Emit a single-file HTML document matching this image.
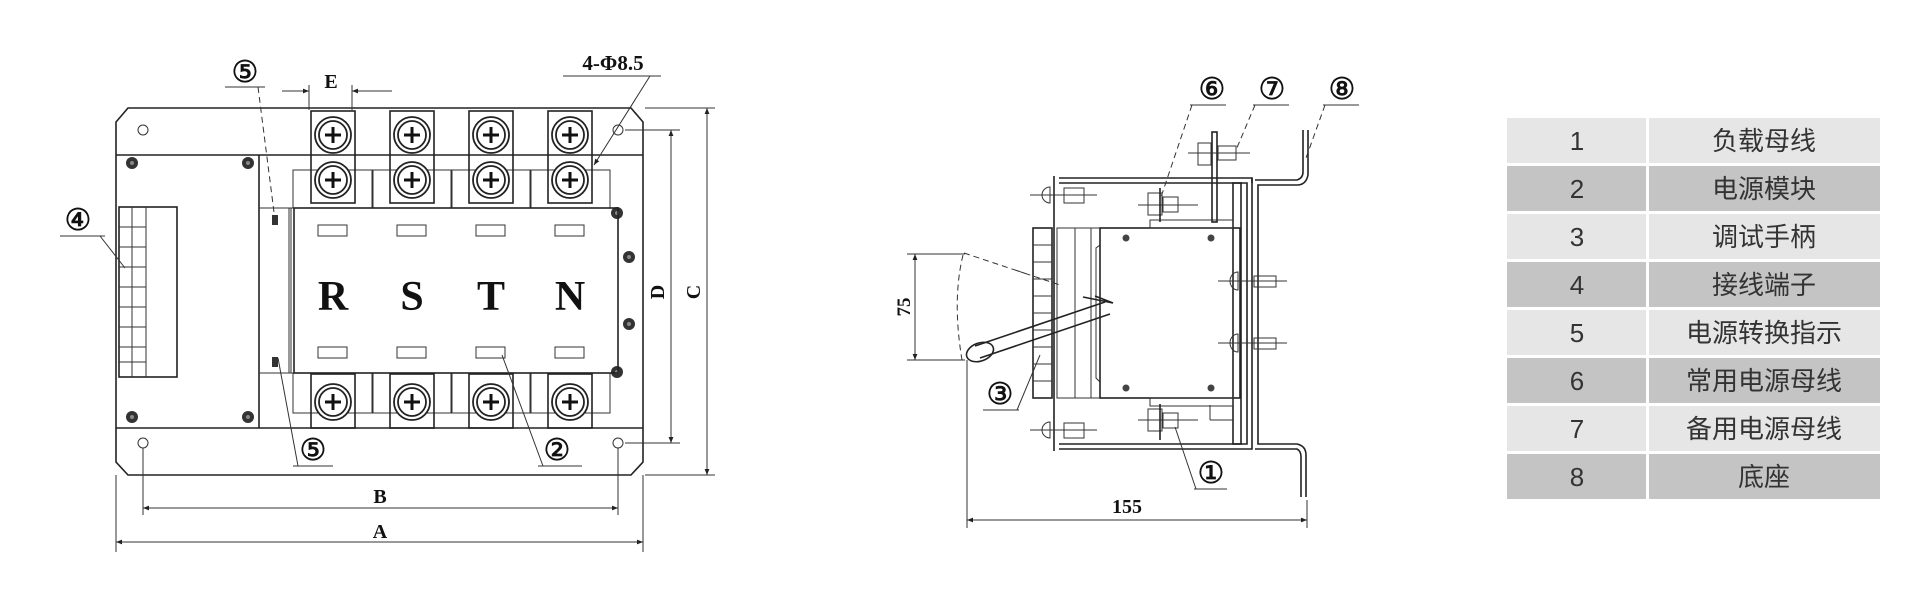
<!DOCTYPE html>
<html><head><meta charset="utf-8"><style>
html,body{margin:0;padding:0;background:#fff;}
svg{display:block}
.l{stroke:#222;stroke-width:1.6;fill:none}
.t{stroke:#333;stroke-width:1;fill:none}
.d{stroke:#333;stroke-width:1;fill:none;stroke-dasharray:6 4}
.c{font-family:"DejaVu Sans","Noto Sans CJK SC",sans-serif;font-size:30px;fill:#111;stroke:#111;stroke-width:0.6}
.s{font-family:"Liberation Serif",serif;font-weight:bold;fill:#111}
.tb{font-family:"Liberation Sans","Noto Sans CJK SC",sans-serif;font-size:26px;fill:#333;text-anchor:middle}
</style></head><body>
<svg width="1909" height="595" viewBox="0 0 1909 595" xmlns="http://www.w3.org/2000/svg">
<defs>
<marker id="a" viewBox="0 0 10 10" refX="10" refY="5" markerWidth="9" markerHeight="6" orient="auto-start-reverse"><path d="M0,1 L10,5 L0,9 z" fill="#222"/></marker>
<g id="scr"><circle r="18" fill="#fff" stroke="#222" stroke-width="1.8"/><circle r="14" fill="none" stroke="#222" stroke-width="1.8"/><path d="M-8,0H8M0,-8V8" stroke="#111" stroke-width="3"/></g>
<g id="bolt"><circle r="6" fill="#333"/><circle r="2" fill="#888"/></g>
</defs>

<!-- LEFT VIEW -->
<path class="l" d="M128,108 H631 L643,122 V462 L631,475 H128 L116,462 V122 Z"/>
<line class="l" x1="116" y1="155" x2="643" y2="155"/>
<line class="l" x1="116" y1="428" x2="643" y2="428"/>
<circle class="t" cx="143" cy="130" r="5"/><circle class="t" cx="618" cy="130" r="5"/>
<circle class="t" cx="143" cy="443" r="5"/><circle class="t" cx="618" cy="443" r="5"/>
<use href="#bolt" x="132" y="163"/><use href="#bolt" x="248" y="163"/>
<use href="#bolt" x="132" y="417"/><use href="#bolt" x="248" y="417"/>
<use href="#bolt" x="629" y="257"/><use href="#bolt" x="629" y="324"/>
<use href="#bolt" x="617" y="213"/><use href="#bolt" x="617" y="372"/>
<rect class="l" x="119" y="207" width="58" height="170"/>
<line class="t" x1="132" y1="207" x2="132" y2="377"/><line class="t" x1="146" y1="207" x2="146" y2="377"/>
<g class="t">
<line x1="119" y1="227" x2="146" y2="227"/><line x1="119" y1="247" x2="146" y2="247"/><line x1="119" y1="267" x2="146" y2="267"/><line x1="119" y1="287" x2="146" y2="287"/><line x1="119" y1="307" x2="146" y2="307"/><line x1="119" y1="327" x2="146" y2="327"/><line x1="119" y1="347" x2="146" y2="347"/><line x1="119" y1="362" x2="146" y2="362"/>
</g>
<line class="l" x1="259" y1="155" x2="259" y2="428"/>
<line class="t" x1="259" y1="208" x2="294" y2="208"/><line class="t" x1="259" y1="373" x2="294" y2="373"/>
<line class="t" x1="291" y1="208" x2="291" y2="373"/><line class="t" x1="289" y1="208" x2="289" y2="373"/>
<rect x="272" y="215" width="6" height="10" fill="#333"/><rect x="272" y="357" width="6" height="10" fill="#333"/>
<g>
<rect class="t" x="293" y="170" width="80" height="38"/><rect class="t" x="372" y="170" width="80" height="38"/><rect class="t" x="451" y="170" width="80" height="38"/><rect class="t" x="530" y="170" width="80" height="38"/>
<rect class="t" x="293" y="373" width="80" height="40"/><rect class="t" x="372" y="373" width="80" height="40"/><rect class="t" x="451" y="373" width="80" height="40"/><rect class="t" x="530" y="373" width="80" height="40"/>
</g>
<rect class="l" x="294" y="208" width="324" height="165" fill="#fff"/>
<g fill="#fff">
<rect class="l" x="311" y="111" width="44" height="92" fill="#fff"/><rect class="l" x="390" y="111" width="44" height="92" fill="#fff"/><rect class="l" x="469" y="111" width="44" height="92" fill="#fff"/><rect class="l" x="548" y="111" width="44" height="92" fill="#fff"/>
<rect class="l" x="311" y="374" width="44" height="54" fill="#fff"/><rect class="l" x="390" y="374" width="44" height="54" fill="#fff"/><rect class="l" x="469" y="374" width="44" height="54" fill="#fff"/><rect class="l" x="548" y="374" width="44" height="54" fill="#fff"/>
</g>
<use href="#scr" x="333" y="135"/><use href="#scr" x="412" y="135"/><use href="#scr" x="491" y="135"/><use href="#scr" x="570" y="135"/>
<use href="#scr" x="333" y="180"/><use href="#scr" x="412" y="180"/><use href="#scr" x="491" y="180"/><use href="#scr" x="570" y="180"/>
<use href="#scr" x="333" y="402"/><use href="#scr" x="412" y="402"/><use href="#scr" x="491" y="402"/><use href="#scr" x="570" y="402"/>
<g class="t"><rect x="318" y="225" width="29" height="11"/><rect x="397" y="225" width="29" height="11"/><rect x="476" y="225" width="29" height="11"/><rect x="555" y="225" width="29" height="11"/>
<rect x="318" y="347" width="29" height="11"/><rect x="397" y="347" width="29" height="11"/><rect x="476" y="347" width="29" height="11"/><rect x="555" y="347" width="29" height="11"/></g>
<g class="s" font-size="42" text-anchor="middle"><text x="333" y="310" textLength="30">R</text><text x="412" y="310">S</text><text x="491" y="310">T</text><text x="570" y="310">N</text></g>
<line class="t" x1="309" y1="85" x2="309" y2="110"/><line class="t" x1="352" y1="85" x2="352" y2="110"/>
<line class="t" x1="282" y1="91" x2="309" y2="91" marker-end="url(#a)"/><line class="t" x1="392" y1="91" x2="352" y2="91" marker-end="url(#a)"/>
<text x="331" y="88" class="s" font-size="20" font-weight="normal" text-anchor="middle" fill="#555">E</text>
<text x="613" y="70" class="s" font-size="21" text-anchor="middle">4-Φ8.5</text>
<line class="t" x1="563" y1="76" x2="661" y2="76"/><line class="t" x1="650" y1="76" x2="594" y2="165" marker-end="url(#a)"/>
<line class="t" x1="625" y1="130" x2="680" y2="130"/><line class="t" x1="625" y1="443" x2="680" y2="443"/>
<line class="t" x1="645" y1="108" x2="715" y2="108"/><line class="t" x1="645" y1="475" x2="715" y2="475"/>
<line class="t" x1="671" y1="130" x2="671" y2="443" marker-start="url(#a)" marker-end="url(#a)"/>
<line class="t" x1="707" y1="108" x2="707" y2="475" marker-start="url(#a)" marker-end="url(#a)"/>
<text class="s" font-size="20" transform="translate(664,292) rotate(-90)" text-anchor="middle">D</text>
<text class="s" font-size="20" transform="translate(700,292) rotate(-90)" text-anchor="middle">C</text>
<line class="t" x1="143" y1="448" x2="143" y2="515"/><line class="t" x1="618" y1="448" x2="618" y2="515"/>
<line class="t" x1="116" y1="475" x2="116" y2="552"/><line class="t" x1="643" y1="475" x2="643" y2="552"/>
<line class="t" x1="143" y1="508" x2="618" y2="508" marker-start="url(#a)" marker-end="url(#a)"/>
<line class="t" x1="116" y1="542" x2="643" y2="542" marker-start="url(#a)" marker-end="url(#a)"/>
<text x="380" y="503" class="s" font-size="20" text-anchor="middle">B</text>
<text x="380" y="538" class="s" font-size="20" text-anchor="middle">A</text>
<text class="c" x="245" y="82" text-anchor="middle">⑤</text><line class="t" x1="225" y1="87" x2="265" y2="87"/><line class="d" x1="258" y1="87" x2="275" y2="220"/>
<text class="c" x="78" y="230" text-anchor="middle">④</text><line class="t" x1="60" y1="236" x2="105" y2="236"/><line class="t" x1="100" y1="236" x2="125" y2="268"/>
<text class="c" x="313" y="460" text-anchor="middle">⑤</text><line class="t" x1="293" y1="466" x2="333" y2="466"/><line class="t" x1="298" y1="466" x2="278" y2="358"/>
<text class="c" x="557" y="460" text-anchor="middle">②</text><line class="t" x1="538" y1="466" x2="582" y2="466"/><line class="t" x1="543" y1="466" x2="502" y2="355"/>

<!-- RIGHT VIEW -->
<path class="l" d="M1054,176 V451"/>
<path class="l" d="M1059,178 H1252 V449 H1059"/>
<path class="l" d="M1059,183 H1247 V444 H1059"/>
<path class="l" d="M1252,178 V183 M1255,180 H1297 Q1303,178 1303,172 V130 M1308,130 V175 Q1306,185 1297,185 H1258 V444 H1297 Q1306,446 1306,455 V497"/>
<path class="l" d="M1255,449 H1297 Q1301,451 1301,457 V497"/>
<rect class="l" x="1233" y="183" width="8" height="261"/>
<g class="t"><path d="M1030,195 H1097 M1030,430 H1097"/>
<rect x="1064" y="188" width="20" height="15"/><rect x="1064" y="423" width="20" height="15"/>
<path d="M1050,187 A8,8 0 0 0 1050,203 Z" /><path d="M1050,422 A8,8 0 0 0 1050,438 Z"/></g>
<rect class="l" x="1033" y="228" width="19" height="170"/>
<g class="t"><path d="M1033,245H1052M1033,262H1052M1033,279H1052M1033,296H1052M1033,313H1052M1033,330H1052M1033,347H1052M1033,364H1052M1033,381H1052"/>
<rect x="1057" y="228" width="18" height="170"/><rect x="1075" y="228" width="16" height="170"/>
<path d="M1091,228 H1100 V245 L1096,248 V378 L1100,382 V398 H1091"/></g>
<rect class="l" x="1100" y="228" width="140" height="170"/>
<g fill="#444"><circle cx="1126" cy="238" r="3.5"/><circle cx="1211" cy="238" r="3.5"/><circle cx="1126" cy="388" r="3.5"/><circle cx="1211" cy="388" r="3.5"/></g>
<rect class="t" x="1150" y="220" width="83" height="8"/><rect class="t" x="1150" y="398" width="83" height="8"/>
<g class="t"><path d="M1138,205 H1198"/><rect x="1148" y="193" width="14" height="22"/><rect x="1163" y="197" width="15" height="15"/>
<path d="M1138,420 H1198"/><rect x="1148" y="409" width="14" height="22"/><rect x="1163" y="413" width="15" height="15"/>
<path d="M1210,420 V405 M1210,420 H1233"/></g>
<line class="l" x1="1160" y1="188" x2="1160" y2="222"/><line class="l" x1="1160" y1="404" x2="1160" y2="440"/>
<rect class="l" x="1212" y="132" width="5" height="90"/>
<g class="t"><path d="M1188,153 H1250"/><rect x="1198" y="143" width="13" height="22"/><rect x="1218" y="146" width="18" height="14"/></g>
<g class="t"><path d="M1218,281 H1287 M1218,343 H1287"/><rect x="1254" y="276" width="22" height="11"/><rect x="1254" y="338" width="22" height="11"/>
<path d="M1238,272 A8,9 0 0 0 1238,290 Z"/><path d="M1238,334 A8,9 0 0 0 1238,352 Z"/></g>
<g class="l"><line x1="975" y1="346" x2="1105" y2="302"/><line x1="980" y1="358" x2="1110" y2="314"/>
<path d="M1095,296 L1113,303 L1083,297"/>
<ellipse cx="980" cy="352" rx="14" ry="9" transform="rotate(-20 980 352)"/></g>
<path class="d" d="M963,255 Q952,300 962,360"/><path class="d" d="M964,253 L1030,275 M1015,270 L1060,285"/>
<line class="t" x1="907" y1="254" x2="965" y2="254"/><line class="t" x1="907" y1="360" x2="965" y2="360"/>
<line class="t" x1="915" y1="254" x2="915" y2="360" marker-start="url(#a)" marker-end="url(#a)"/>
<text class="s" font-size="19" transform="translate(910,307) rotate(-90)" text-anchor="middle">75</text>
<line class="t" x1="967" y1="360" x2="967" y2="528"/><line class="t" x1="1307" y1="500" x2="1307" y2="528"/>
<line class="t" x1="967" y1="520" x2="1307" y2="520" marker-start="url(#a)" marker-end="url(#a)"/>
<text x="1127" y="513" class="s" font-size="20" text-anchor="middle">155</text>
<text class="c" x="1212" y="99" text-anchor="middle">⑥</text><line class="t" x1="1190" y1="105" x2="1226" y2="105"/><line class="d" x1="1192" y1="105" x2="1160" y2="200"/>
<text class="c" x="1272" y="99" text-anchor="middle">⑦</text><line class="t" x1="1253" y1="105" x2="1289" y2="105"/><line class="d" x1="1255" y1="105" x2="1236" y2="150"/>
<text class="c" x="1342" y="99" text-anchor="middle">⑧</text><line class="t" x1="1323" y1="105" x2="1359" y2="105"/><line class="d" x1="1325" y1="105" x2="1306" y2="158"/>
<text class="c" x="1211" y="483" text-anchor="middle">①</text><line class="t" x1="1194" y1="489" x2="1227" y2="489"/><line class="t" x1="1196" y1="489" x2="1175" y2="427"/>
<text class="c" x="1000" y="404" text-anchor="middle">③</text><line class="t" x1="983" y1="410" x2="1019" y2="410"/><line class="t" x1="1017" y1="410" x2="1040" y2="355"/>

<!-- TABLE -->
<g>
<rect x="1507" y="118" width="139" height="45" fill="#e6e6e6"/><rect x="1649" y="118" width="231" height="45" fill="#e6e6e6"/>
<rect x="1507" y="166" width="139" height="45" fill="#c4c4c4"/><rect x="1649" y="166" width="231" height="45" fill="#c4c4c4"/>
<rect x="1507" y="214" width="139" height="45" fill="#e6e6e6"/><rect x="1649" y="214" width="231" height="45" fill="#e6e6e6"/>
<rect x="1507" y="262" width="139" height="45" fill="#c4c4c4"/><rect x="1649" y="262" width="231" height="45" fill="#c4c4c4"/>
<rect x="1507" y="310" width="139" height="45" fill="#e6e6e6"/><rect x="1649" y="310" width="231" height="45" fill="#e6e6e6"/>
<rect x="1507" y="358" width="139" height="45" fill="#c4c4c4"/><rect x="1649" y="358" width="231" height="45" fill="#c4c4c4"/>
<rect x="1507" y="406" width="139" height="45" fill="#e6e6e6"/><rect x="1649" y="406" width="231" height="45" fill="#e6e6e6"/>
<rect x="1507" y="454" width="139" height="45" fill="#c4c4c4"/><rect x="1649" y="454" width="231" height="45" fill="#c4c4c4"/>
</g>
<g class="tb">
<text x="1577" y="150">1</text><text x="1764" y="150">负载母线</text>
<text x="1577" y="198">2</text><text x="1764" y="198">电源模块</text>
<text x="1577" y="246">3</text><text x="1764" y="246">调试手柄</text>
<text x="1577" y="294">4</text><text x="1764" y="294">接线端子</text>
<text x="1577" y="342">5</text><text x="1764" y="342">电源转换指示</text>
<text x="1577" y="390">6</text><text x="1764" y="390">常用电源母线</text>
<text x="1577" y="438">7</text><text x="1764" y="438">备用电源母线</text>
<text x="1577" y="486">8</text><text x="1764" y="486">底座</text>
</g>
</svg>
</body></html>
